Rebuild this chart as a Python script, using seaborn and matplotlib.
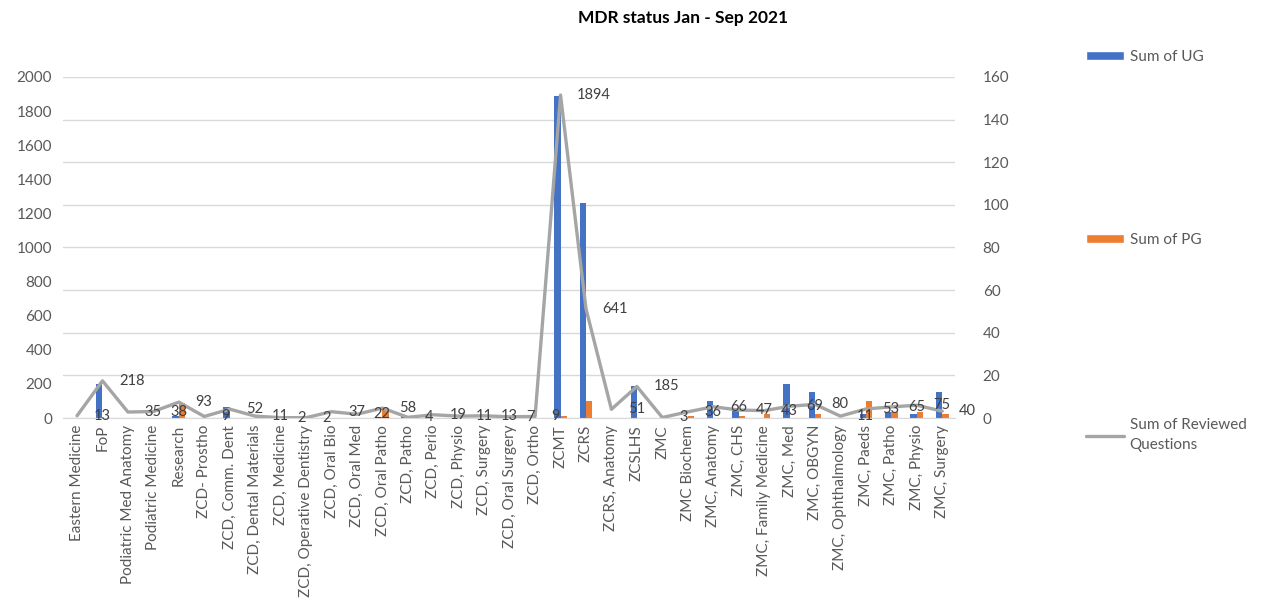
import pandas as pd
import matplotlib
matplotlib.use("Agg")
import matplotlib.pyplot as plt
import seaborn as sns
from matplotlib.patches import Patch
from matplotlib.lines import Line2D

# Dados
departamentos = [
    "Eastern Medicine", "FoP", "Podiatric Med Anatomy", "Podiatric Medicine", "Research",
    "ZCD- Prostho", "ZCD, Comm. Dent", "ZCD, Dental Materials", "ZCD, Medicine",
    "ZCD, Operative Dentistry", "ZCD, Oral Bio", "ZCD, Oral Med", "ZCD, Oral Patho",
    "ZCD, Patho", "ZCD, Perio", "ZCD, Physio", "ZCD, Surgery", "ZCD, Oral Surgery",
    "ZCD, Ortho", "ZCMT", "ZCRS", "ZCRS, Anatomy", "ZCSLHS", "ZMC", "ZMC Biochem",
    "ZMC, Anatomy", "ZMC, CHS", "ZMC, Family Medicine", "ZMC, Med", "ZMC, OBGYN",
    "ZMC, Ophthalmology", "ZMC, Paeds", "ZMC, Patho", "ZMC, Physio", "ZMC, Surgery",
]
ug = [0, 16, 0, 0, 1, 0, 5, 0, 0, 0, 0, 0, 0, 1, 0, 0, 0, 0, 0, 151, 101, 0, 15, 0, 0,
      8, 4, 0, 16, 12, 0, 2, 3, 2, 12]
pg = [0, 0, 0, 0, 7, 0, 0, 0, 0, 0, 0, 0, 4, 0, 0, 0, 0, 0, 0, 1, 8, 0, 0, 0, 1,
      0, 1, 2, 0, 2, 0, 8, 3, 3, 2]
revisadas = [13, 218, 35, 38, 93, 9, 52, 11, 2, 2, 37, 22, 58, 4, 19, 11, 13, 7, 9, 1894,
             641, 51, 185, 3, 36, 66, 47, 43, 69, 80, 11, 53, 65, 75, 40]

n = len(departamentos)
df_barras = pd.DataFrame({
    "Departamento": departamentos * 2,
    "Valor": ug + pg,
    "Serie": ["Sum of UG"] * n + ["Sum of PG"] * n,
})
cores = {"Sum of UG": "#4472C4", "Sum of PG": "#ED7D31"}
cinza_linha = "#A5A5A5"
cinza_texto = "#595959"

sns.set_style("white")
plt.rcParams["font.family"] = ["Lato", "DejaVu Sans"]

fig = plt.figure(figsize=(12.66, 6.08), dpi=100)
ax = fig.add_axes([0.0498, 0.3125, 0.7045, 0.5609])
ax2 = ax.twinx()

# Barras no eixo secundário (direita)
sns.barplot(data=df_barras, x="Departamento", y="Valor", hue="Serie", palette=cores,
            width=0.5, gap=0, ax=ax2, legend=False, saturation=1, linewidth=0)

# Linha no eixo principal (esquerda)
sns.lineplot(x=departamentos, y=revisadas, color=cinza_linha, linewidth=2.4, sort=False, ax=ax)
for i, v in enumerate(revisadas):
    ax.annotate(str(v), (i, v), xytext=(12, 0), textcoords="offset points",
                ha="left", va="center", fontsize=10.5, color="#404040")

ax.set_zorder(ax2.get_zorder() + 1)
ax.patch.set_visible(False)

ax.set_ylim(0, 2000)
ax.set_yticks(range(0, 2001, 200))
ax2.set_ylim(0, 160)
ax2.set_yticks(range(0, 161, 20))
ax.set_xlim(-0.55, n - 0.5)
ax.set_xticks(range(n))
ax.set_xticklabels(departamentos, rotation=90)

ax2.yaxis.grid(True, color="#D9D9D9", linewidth=1)
ax.grid(False)
for a in (ax, ax2):
    for s in a.spines.values():
        s.set_visible(False)
    a.set_xlabel("")
    a.set_ylabel("")
ax2.spines["bottom"].set_visible(True)
ax2.spines["bottom"].set_color("#D9D9D9")

ax.tick_params(axis="y", length=0, pad=8, labelsize=11, labelcolor=cinza_texto)
ax.tick_params(axis="x", length=0, pad=5, labelsize=11, labelcolor=cinza_texto)
ax2.tick_params(axis="y", length=0, pad=20, labelsize=11, labelcolor=cinza_texto)

fig.text(0.5395, 0.970, "MDR status Jan - Sep 2021", ha="center", va="center",
         fontsize=12.5, fontweight="bold", color="#000000")

# Legendas separadas, estilo Excel
itens = [
    (Patch(facecolor=cores["Sum of UG"]), "Sum of UG", 57),
    (Patch(facecolor=cores["Sum of PG"]), "Sum of PG", 240),
    (Line2D([], [], color=cinza_linha, linewidth=2.4), "Sum of Reviewed\nQuestions", 435),
]
for h, rotulo, y in itens:
    leg = fig.legend(handles=[h], labels=[rotulo], loc="center left",
                     bbox_to_anchor=(1086 / 1266, 1 - y / 608), frameon=False,
                     borderpad=0, borderaxespad=0, handlelength=2.5, handleheight=0.45,
                     handletextpad=0.35, fontsize=11, labelcolor=cinza_texto)
    leg.get_texts()[0].set_linespacing(1.5)

fig.savefig("out.png", dpi=100)
